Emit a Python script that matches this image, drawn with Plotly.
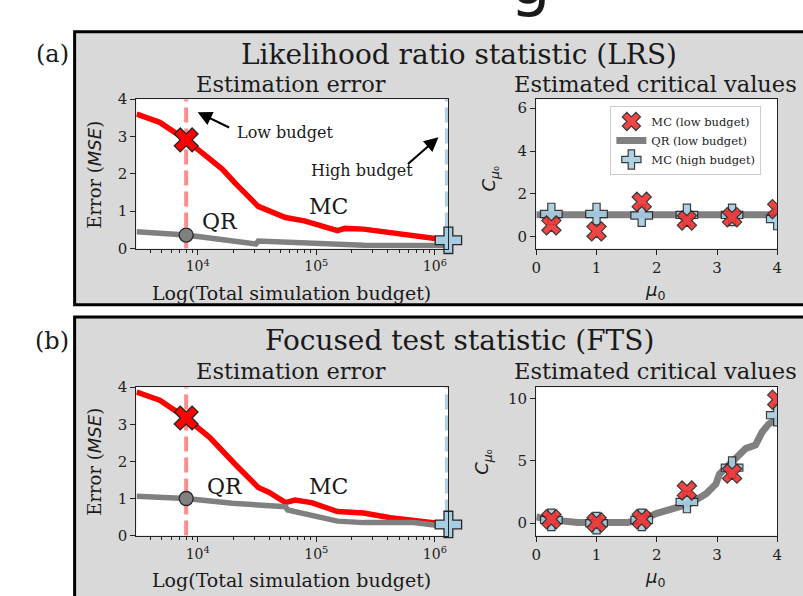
import numpy as np
import plotly.graph_objects as go

W, H = 803, 596

# ---------------- data ----------------
low_budget = 8000
high_budget = 1300000

lrs_mc_budget = [3060, 4790, 8000, 12500, 16100, 20900, 32400, 55000, 79400, 151000, 174000, 251000, 479000, 1020000, 1300000]
lrs_mc_mse = [3.60, 3.38, 2.91, 2.43, 2.13, 1.74, 1.13, 0.83, 0.74, 0.48, 0.54, 0.52, 0.39, 0.25, 0.22]
lrs_qr_budget = [3060, 8000, 15800, 30900, 32400, 97700, 251000, 1300000]
lrs_qr_mse = [0.45, 0.36, 0.24, 0.12, 0.20, 0.13, 0.09, 0.08]

fts_mc_budget = [3060, 4790, 8000, 12600, 20900, 32400, 39800, 55000, 66100, 91200, 151000, 251000, 422000, 750000, 1300000]
fts_mc_mse = [3.87, 3.65, 3.17, 2.65, 1.91, 1.30, 1.17, 0.89, 0.96, 0.89, 0.65, 0.61, 0.48, 0.39, 0.30]
fts_qr_budget = [3060, 8000, 19500, 55000, 57500, 151000, 251000, 661000, 1300000]
fts_qr_mse = [1.06, 1.00, 0.87, 0.78, 0.69, 0.39, 0.35, 0.35, 0.24]

mu0 = [0.25, 1.0, 1.75, 2.5, 3.25, 4.0]
lrs_crit_mc_low = [0.53, 0.25, 1.63, 0.76, 0.91, 1.29]
lrs_crit_mc_high = [1.06, 1.06, 0.99, 1.02, 1.02, 0.83]
lrs_qr_mu = [0.0, 1.0, 2.0, 3.0, 4.0]
lrs_crit_qr = [1.03, 1.03, 1.03, 1.03, 1.03]

fts_crit_mc_low = [0.31, 0.05, 0.31, 2.61, 3.97, 9.90]
fts_crit_mc_high = [0.26, 0.00, 0.26, 1.70, 4.45, 8.66]
fts_qr_mu = [0.0, 0.25, 0.69, 1.0, 1.51, 1.75, 2.0, 2.27, 2.55, 2.82, 2.98, 3.04, 3.2, 3.37, 3.48, 3.64, 3.75, 3.86, 4.0]
fts_crit_qr = [0.50, 0.26, 0.05, 0.0, 0.05, 0.26, 0.78, 1.17, 1.57, 2.35, 3.13, 3.92, 4.70, 5.48, 6.0, 6.27, 7.31, 7.96, 8.35]

budget_ticks = [1e4, 1e5, 1e6]
budget_ticktext = ["10<sup>4</sup>", "10<sup>5</sup>", "10<sup>6</sup>"]
budget_minor = [m * 10 ** e for e in (3, 4, 5) for m in range(2, 10)]
mu_ticks = [0, 1, 2, 3, 4]

# ---------------- style ----------------
SERIF = "DejaVu Serif"
SANS = "DejaVu Sans"
RED = "#ff0000"
GRAY = "#808080"
LBLUE = "#a6cde2"
EDGE = "#262626"
TXT = "#1a1a1a"


def px(x):
    return x / W


def py(y):
    return 1 - y / H


fig = go.Figure()


def left_panel(xa, ya, mc_b, mc_v, qr_b, qr_v):
    ymax = 4
    fig.add_trace(go.Scatter(x=[low_budget, low_budget], y=[0, ymax], mode="lines",
                             line=dict(color="rgba(255,0,0,0.45)", width=4, dash="15px,6px"),
                             xaxis=xa, yaxis=ya, showlegend=False, hoverinfo="skip"))
    fig.add_trace(go.Scatter(x=[high_budget, high_budget], y=[0, ymax], mode="lines",
                             line=dict(color="rgba(120,175,210,0.6)", width=7, dash="15px,6px"),
                             xaxis=xa, yaxis=ya, showlegend=False, hoverinfo="skip"))
    fig.add_trace(go.Scatter(x=mc_b, y=mc_v, mode="lines", line=dict(color=RED, width=5.5),
                             xaxis=xa, yaxis=ya, showlegend=False))
    fig.add_trace(go.Scatter(x=qr_b, y=qr_v, mode="lines", line=dict(color=GRAY, width=5.5),
                             xaxis=xa, yaxis=ya, showlegend=False))
    qi = qr_b.index(low_budget)
    fig.add_trace(go.Scatter(x=[low_budget], y=[qr_v[qi]], mode="markers", cliponaxis=False,
                             marker=dict(symbol="circle", size=14, color=GRAY, line=dict(color=EDGE, width=1.3)),
                             xaxis=xa, yaxis=ya, showlegend=False))
    mi = mc_b.index(low_budget)
    fig.add_trace(go.Scatter(x=[low_budget], y=[mc_v[mi]], mode="markers", cliponaxis=False,
                             marker=dict(symbol="x", size=21, color=RED, line=dict(color=EDGE, width=1.3)),
                             xaxis=xa, yaxis=ya, showlegend=False))
    hi = mc_b.index(high_budget)
    fig.add_trace(go.Scatter(x=[high_budget], y=[mc_v[hi]], mode="markers", cliponaxis=False,
                             marker=dict(symbol="cross", size=22, color=LBLUE, line=dict(color=EDGE, width=1.3)),
                             xaxis=xa, yaxis=ya, showlegend=False))


def right_panel(xa, ya, qr_mu, qr_v, low_v, high_v, legend):
    fig.add_trace(go.Scatter(x=qr_mu, y=qr_v, mode="lines", line=dict(color=GRAY, width=7),
                             name="QR (low budget)", legendrank=2, showlegend=legend,
                             xaxis=xa, yaxis=ya))
    fig.add_trace(go.Scatter(x=mu0, y=high_v, mode="markers",
                             marker=dict(symbol="cross", size=18, color=LBLUE, opacity=0.9,
                                         line=dict(color=EDGE, width=1.2)),
                             name="MC (high budget)", legendrank=3, showlegend=legend,
                             xaxis=xa, yaxis=ya))
    fig.add_trace(go.Scatter(x=mu0, y=low_v, mode="markers",
                             marker=dict(symbol="x", size=17, color="#f03030", opacity=0.9,
                                         line=dict(color=EDGE, width=1.2)),
                             name="MC (low budget)", legendrank=1, showlegend=legend,
                             xaxis=xa, yaxis=ya))


left_panel("x", "y", lrs_mc_budget, lrs_mc_mse, lrs_qr_budget, lrs_qr_mse)
right_panel("x2", "y2", lrs_qr_mu, lrs_crit_qr, lrs_crit_mc_low, lrs_crit_mc_high, True)
left_panel("x3", "y3", fts_mc_budget, fts_mc_mse, fts_qr_budget, fts_qr_mse)
right_panel("x4", "y4", fts_qr_mu, fts_crit_qr, fts_crit_mc_low, fts_crit_mc_high, False)

axis_common = dict(showline=True, mirror=True, linecolor="#222", linewidth=1.3, showgrid=False,
                   zeroline=False, ticks="outside", ticklen=5, tickwidth=1.1, tickcolor="#222",
                   tickfont=dict(family=SERIF, size=15, color="#222"))

log_x = dict(axis_common, type="log", range=[3.483, 6.114], tickvals=budget_ticks,
             ticktext=budget_ticktext, tickfont=dict(family=SERIF, size=14, color="#222"),
             minor=dict(tickvals=budget_minor, ticks="outside", ticklen=3, tickwidth=1, tickcolor="#222"))
mu_x = dict(axis_common, range=[0, 4], tickvals=mu_ticks)

xl = [px(133), px(449)]
xr = [px(538), px(782)]
ya_dom = [py(247), py(93)]
yb_dom = [py(543), py(390)]

fig.update_layout(
    xaxis=dict(log_x, domain=xl, anchor="y"),
    yaxis=dict(axis_common, domain=ya_dom, anchor="x", range=[0, 4], tickvals=[0, 1, 2, 3, 4]),
    xaxis2=dict(mu_x, domain=xr, anchor="y2"),
    yaxis2=dict(axis_common, domain=ya_dom, anchor="x2", range=[-0.55, 6.42], tickvals=[0, 2, 4, 6]),
    xaxis3=dict(log_x, domain=xl, anchor="y3"),
    yaxis3=dict(axis_common, domain=yb_dom, anchor="x3", range=[0, 4], tickvals=[0, 1, 2, 3, 4]),
    xaxis4=dict(mu_x, domain=xr, anchor="y4"),
    yaxis4=dict(axis_common, domain=yb_dom, anchor="x4", range=[-1.0, 10.9], tickvals=[0, 5, 10]),
)

# ---------------- background boxes ----------------
shapes = []
for top, bottom in ((23.5, 305), (317.5, 620)):
    shapes.append(dict(type="rect", xref="paper", yref="paper", x0=px(70.5), x1=1.05,
                       y0=py(bottom), y1=py(top), fillcolor="#d9d9d9",
                       line=dict(color="black", width=3), layer="below"))
for xd in (xl, xr):
    for yd in (ya_dom, yb_dom):
        shapes.append(dict(type="rect", xref="paper", yref="paper", x0=xd[0], x1=xd[1],
                           y0=yd[0], y1=yd[1], fillcolor="white", line=dict(width=0), layer="below"))


def txt(text, x, y, size, family=SERIF, xanchor="center", angle=0, color=TXT):
    return dict(text=text, x=px(x), y=py(y), xref="paper", yref="paper", showarrow=False,
                font=dict(family=family, size=size, color=color), xanchor=xanchor,
                yanchor="middle", textangle=angle)


mse_label = 'Error (<span style="font-family:DejaVu Sans"><i>MSE</i></span>)'
mu_label = '<span style="font-family:DejaVu Sans"><i>μ</i><sub>0</sub></span>'
c_label = '<span style="font-family:DejaVu Sans"><i>C</i><sub><i>μ</i>₀</sub></span>'

ann = [
    # clipped fragment of the figure title above
    dict(text="g", x=px(532), y=py(12), xref="paper", yref="paper", showarrow=False,
         font=dict(family=SANS, size=64, color=TXT), xanchor="center", yanchor="bottom"),
    txt("(a)", 48, 46, 24),
    txt("(b)", 48, 342, 24),
    txt("Likelihood ratio statistic (LRS)", 460, 47, 28),
    txt("Focused test statistic (FTS)", 460, 342, 28),
]
for yoff in (0, 296):
    ann += [
        txt("Estimation error", 290, 77 + yoff, 22.5),
        txt("Estimated critical values", 659, 77 + yoff, 22.5),
        txt("Log(Total simulation budget)", 290, 293 + yoff, 19),
        txt(mse_label, 91, 171 + yoff, 18, angle=-90),
        txt(mu_label, 658, 291 + yoff, 18),
    ]
ann += [
    txt(c_label, 491, 175, 18, angle=-90),
    txt(c_label, 484, 467, 18, angle=-90),
    txt("QR", 218, 219, 22),
    txt("MC", 328, 204, 22),
    txt("QR", 223, 492, 22),
    txt("MC", 328, 492, 22),
    txt("Low budget", 233, 127, 16, xanchor="left"),
    txt("High budget", 308, 167, 16, xanchor="left"),
    dict(text="", x=4.0, y=3.65, xref="x", yref="y", showarrow=True, ax=33, ay=16,
         axref="pixel", ayref="pixel", arrowhead=2, arrowsize=1.3, arrowwidth=2.2,
         arrowcolor="black", standoff=0),
    dict(text="", x=6.03, y=2.98, xref="x", yref="y", showarrow=True, ax=-32, ay=28,
         axref="pixel", ayref="pixel", arrowhead=2, arrowsize=1.3, arrowwidth=2.2,
         arrowcolor="black", standoff=0),
]

fig.update_layout(
    width=W, height=H, margin=dict(l=0, r=0, t=0, b=0, pad=0),
    paper_bgcolor="white", plot_bgcolor="white",
    shapes=shapes, annotations=ann,
    legend=dict(x=px(613), y=py(100), xanchor="left", yanchor="top",
                bgcolor="rgba(255,255,255,0.9)", bordercolor="#cccccc", borderwidth=1,
                font=dict(family=SERIF, size=11.5, color=TXT), tracegroupgap=0,
                itemwidth=30, traceorder="normal"),
    font=dict(family=SERIF, color=TXT),
)

fig.write_html(
    "out.html",
    post_script=(
        "document.documentElement.style.margin='0';"
        "document.body.style.margin='0';document.body.style.padding='0';"
        "var d=document.getElementById('{plot_id}');"
        "d.style.position='absolute';d.style.left='0px';d.style.top='0px';"
        "window.scrollTo(0,0);"
    ),
)
